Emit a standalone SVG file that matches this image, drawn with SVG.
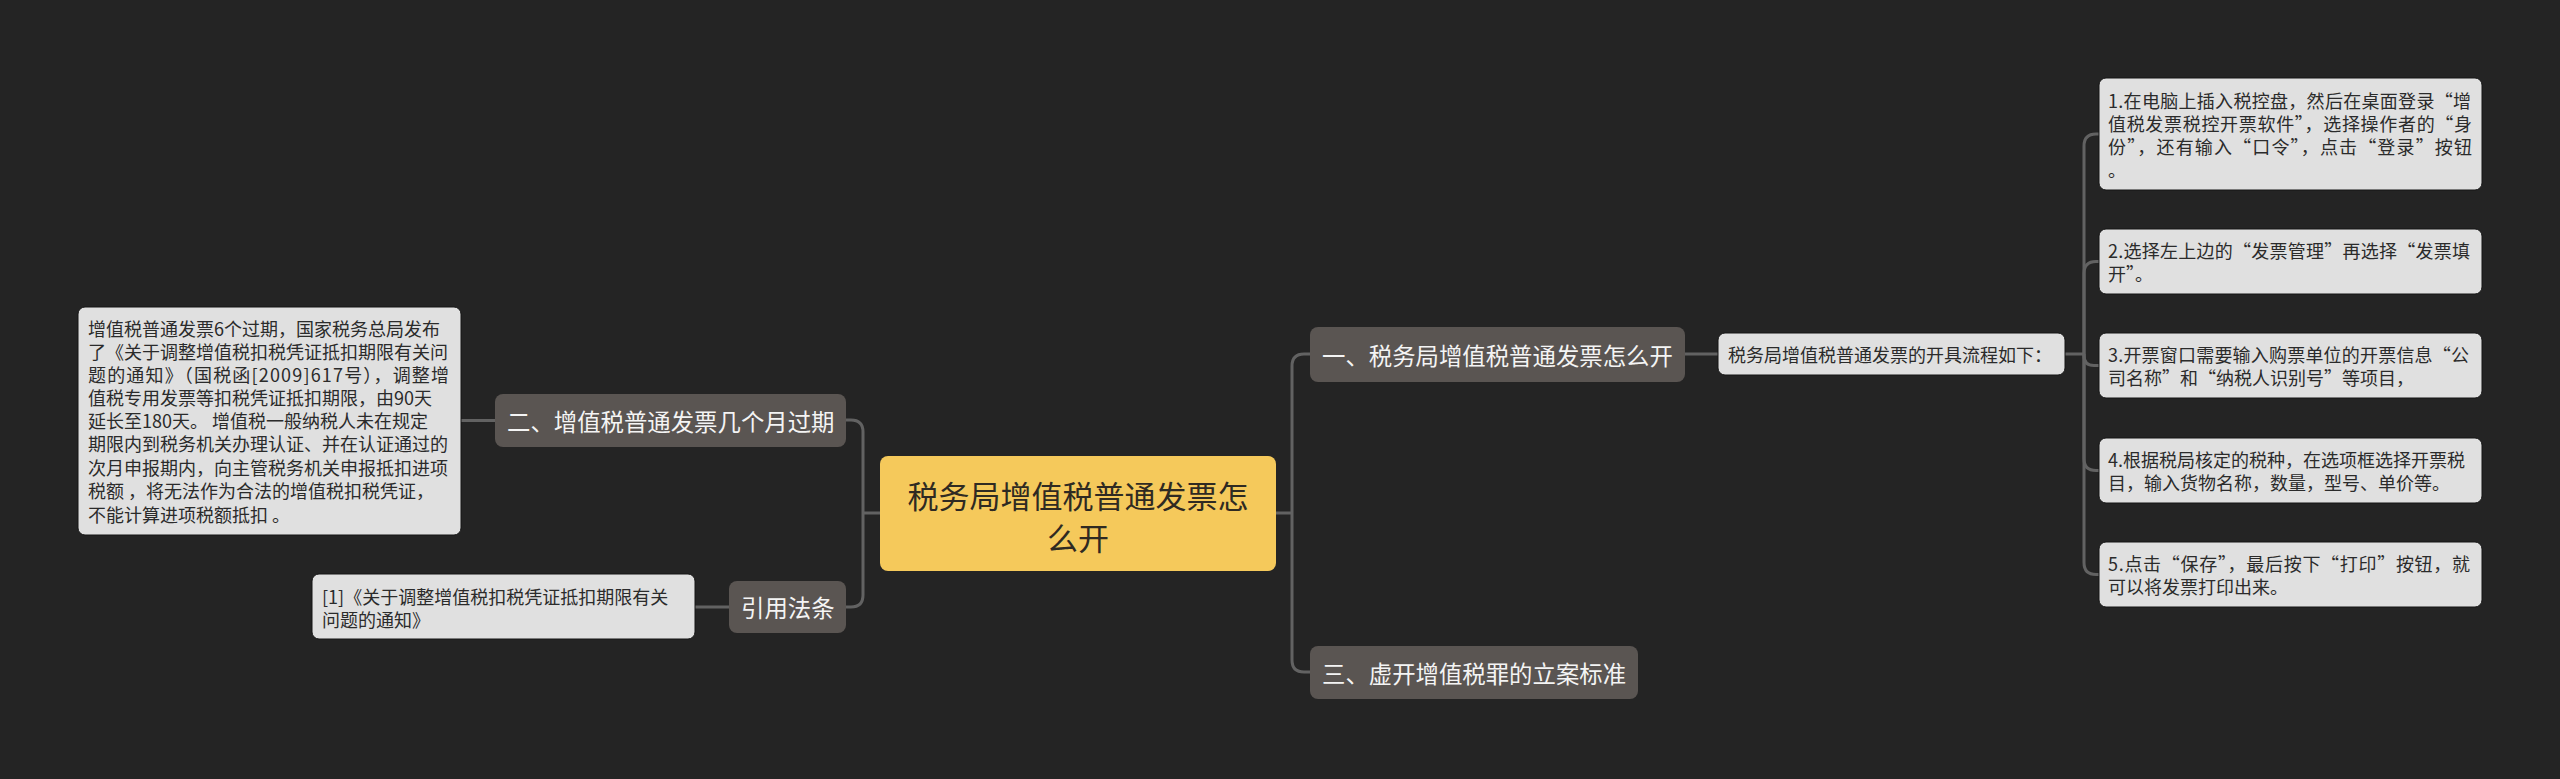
<svg xmlns="http://www.w3.org/2000/svg" width="2560" height="779" viewBox="0 0 2560 779">
<style>
text, tspan { font-family: "Noto Sans CJK SC", "Noto Sans", sans-serif; dominant-baseline: central; }
.bg { fill: #242424; }
.root rect { fill: #F5C95B; }
.root text { fill: #2f2a22; font-size: 31px; text-anchor: middle; }
.branch rect { fill: #5A5552; }
.branch text { fill: #F4F4F4; font-size: 23.4px; }
.leaf rect { fill: #E0E0E0; stroke: #151515; stroke-width: 1; }
.leaf text { fill: #2b2b2b; font-size: 18px; }
.conn path { fill: none; stroke: #626262; stroke-width: 3; }
</style>
<rect class="bg" x="0" y="0" width="2560" height="779"/>

<g class="conn" id="connectors">
  <path d="M1276 513 H1292"/>
  <path d="M1292 513 V366 Q1292 354 1304 354 H1310"/>
  <path d="M1292 513 V660 Q1292 672 1304 672 H1310"/>
  <path d="M880 513 H863"/>
  <path d="M863 513 V432 Q863 420 851 420 H846"/>
  <path d="M863 513 V595 Q863 607 851 607 H846"/>
  <path d="M495 420.5 H461"/>
  <path d="M729 607 H695"/>
  <path d="M1685 354 H1718"/>
  <path d="M2065 354 H2084"/>
  <path d="M2084 354 V146 Q2084 134 2096 134 H2099"/>
  <path d="M2084 354 V273.5 Q2084 261.5 2096 261.5 H2099"/>
  <path d="M2084 354 V355.5 Q2084 365.5 2094 365.5 H2099"/>
  <path d="M2084 354 V458.5 Q2084 470.5 2096 470.5 H2099"/>
  <path d="M2084 354 V562.5 Q2084 574.5 2096 574.5 H2099"/>
</g>

<g class="root" id="node-root">
  <rect x="880" y="456" width="396" height="115" rx="8"/>
  <text x="1078"><tspan x="1078" y="494">税务局增值税普通发票怎</tspan><tspan x="1078" y="536">么开</tspan></text>
</g>

<g class="branch" id="node-b1">
  <rect x="1310" y="327" width="375" height="55" rx="8"/>
  <text x="1322" y="354.5">一、税务局增值税普通发票怎么开</text>
</g>
<g class="branch" id="node-b3">
  <rect x="1310" y="646" width="328" height="53" rx="8"/>
  <text x="1322" y="672.5">三、虚开增值税罪的立案标准</text>
</g>
<g class="branch" id="node-b2">
  <rect x="495" y="394" width="351" height="53" rx="8"/>
  <text x="507" y="420.5">二、增值税普通发票几个月过期</text>
</g>
<g class="branch" id="node-cite">
  <rect x="729" y="581" width="117" height="52" rx="8"/>
  <text x="741" y="607">引用法条</text>
</g>

<g class="leaf" id="node-flow">
  <rect x="1718" y="333" width="347" height="42" rx="7"/>
  <text x="1728" y="354">税务局增值税普通发票的开具流程如下：</text>
</g>

<g class="leaf" id="node-step1">
  <rect x="2099" y="78" width="383" height="112" rx="7"/>
  <text><tspan x="2108" y="99.5" textLength="363" lengthAdjust="spacing">1.在电脑上插入税控盘，然后在桌面登录“增</tspan></text>
  <text><tspan x="2108" y="122.5" textLength="364" lengthAdjust="spacing">值税发票税控开票软件”，选择操作者的“身</tspan></text>
  <text><tspan x="2108" y="145.5" textLength="364" lengthAdjust="spacing">份”，还有输入“口令”，点击“登录”按钮</tspan></text>
  <text><tspan x="2108" y="168.5">。</tspan></text>
</g>
<g class="leaf" id="node-step2">
  <rect x="2099" y="229" width="383" height="65" rx="7"/>
  <text><tspan x="2108" y="250" textLength="362" lengthAdjust="spacing">2.选择左上边的“发票管理”再选择“发票填</tspan></text>
  <text><tspan x="2108" y="273">开”。</tspan></text>
</g>
<g class="leaf" id="node-step3">
  <rect x="2099" y="333" width="383" height="65" rx="7"/>
  <text><tspan x="2108" y="354" textLength="361" lengthAdjust="spacing">3.开票窗口需要输入购票单位的开票信息“公</tspan></text>
  <text><tspan x="2108" y="377">司名称”和“纳税人识别号”等项目，</tspan></text>
</g>
<g class="leaf" id="node-step4">
  <rect x="2099" y="438" width="383" height="65" rx="7"/>
  <text><tspan x="2108" y="459">4.根据税局核定的税种，在选项框选择开票税</tspan></text>
  <text><tspan x="2108" y="482">目，输入货物名称，数量，型号、单价等。</tspan></text>
</g>
<g class="leaf" id="node-step5">
  <rect x="2099" y="542" width="383" height="65" rx="7"/>
  <text><tspan x="2108" y="563" textLength="362" lengthAdjust="spacing">5.点击“保存”，最后按下“打印”按钮，就</tspan></text>
  <text><tspan x="2108" y="586">可以将发票打印出来。</tspan></text>
</g>

<g class="leaf" id="node-expire">
  <rect x="78" y="307" width="383" height="228" rx="7"/>
  <text><tspan x="88" y="328">增值税普通发票6个过期，国家税务总局发布</tspan><tspan x="88" y="351">了《关于调整增值税扣税凭证抵扣期限有关问</tspan></text>
  <text><tspan x="88" y="374" textLength="361" lengthAdjust="spacing">题的通知》（国税函[2009]617号），调整增</tspan></text>
  <text><tspan x="88" y="397">值税专用发票等扣税凭证抵扣期限，由90天</tspan><tspan x="88" y="420">延长至180天。 增值税一般纳税人未在规定</tspan><tspan x="88" y="443">期限内到税务机关办理认证、并在认证通过的</tspan><tspan x="88" y="467">次月申报期内，向主管税务机关申报抵扣进项</tspan><tspan x="88" y="490">税额 ，将无法作为合法的增值税扣税凭证，</tspan><tspan x="88" y="514">不能计算进项税额抵扣 。</tspan></text>
</g>
<g class="leaf" id="node-law">
  <rect x="312" y="574" width="383" height="65" rx="7"/>
  <text><tspan x="322" y="596">[1]《关于调整增值税扣税凭证抵扣期限有关</tspan><tspan x="322" y="619">问题的通知》</tspan></text>
</g>
</svg>
